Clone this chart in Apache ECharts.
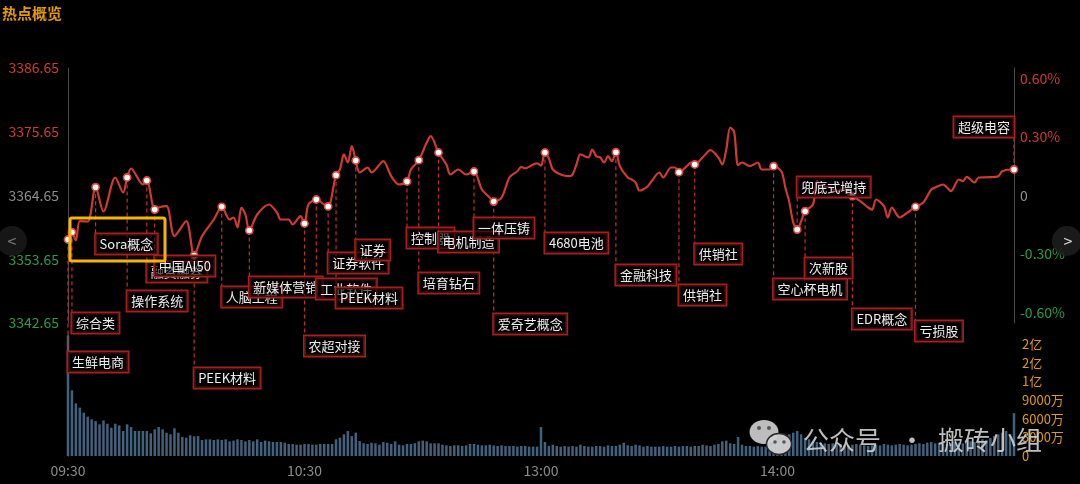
<!DOCTYPE html>
<html><head><meta charset="utf-8">
<script src="https://cdn.jsdelivr.net/npm/echarts@6/dist/echarts.min.js"></script>
<style>html,body{margin:0;padding:0;background:#000;}#c{width:1080px;height:484px;}</style>
</head><body><div id="c"></div>
<script>
// ---------- data ----------
const BASE = 3364.65;                 // previous close
const PRICE_HALF_RANGE = 22;          // axis spans BASE ± 22
const PCT_TICKS = [-0.6, -0.3, 0, 0.3, 0.6];
const TIME_LABELS = ['09:30', '10:30', '13:00', '14:00', ''];

const LINE_MIN = [0,1,2,3,5,7,9,12,14,15,16,19,20,22,23,25,27,30,32,34,37,39,41,42,43,44,45,46,48,51,53,54,56,57,59,60,61,63,65,66,68,69,70,71,72,73,74,76,77,78,80,82,84,86,87,89,91,92,94,96,97,99,101,103,105,107,108,110,112,114,115,116,118,119,120,121,122,123,125,127,128,129,130,132,133,134,135,136,137,138,139,140,142,143,144,145,147,148,150,151,153,154,155,157,158,159,161,163,165,166,167,168,169,170,171,173,175,176,178,179,181,182,183,184,185,186,187,189,190,191,193,195,197,198,199,201,203,204,205,207,208,209,211,213,215,217,219,220,222,223,224,226,227,228,230,231,234,236,237,239,240];
const LINE_PRICE = [3357.06,3358.32,3356.9,3360.22,3360.16,3366.08,3361.89,3367.76,3365.17,3367.76,3369.31,3366.55,3367.24,3362.23,3362.58,3362.80,3357.63,3360.22,3354.30,3357.63,3360.51,3362.70,3360.51,3360.85,3359.13,3362.58,3361.37,3358.61,3361.37,3363.10,3361.72,3360.51,3360.51,3359.65,3361.08,3359.82,3363.10,3363.96,3363.10,3362.75,3368.15,3369.14,3371.73,3370.34,3373.16,3370.69,3368.62,3369.48,3368.62,3369.14,3370.57,3367.98,3366.55,3367.07,3369.14,3370.74,3373.80,3374.88,3372.07,3370.00,3368.27,3369.14,3368.27,3368.79,3365.69,3364.30,3363.61,3364.30,3367.76,3368.84,3369.60,3369.31,3370.00,3370.20,3369.80,3372.07,3371.03,3369.14,3368.27,3367.98,3368.27,3370.00,3371.73,3371.21,3372.59,3371.43,3371.21,3370.34,3371.43,3370.57,3372.12,3369.71,3367.76,3367.41,3366.89,3365.51,3366.20,3367.07,3368.62,3367.76,3369.48,3369.48,3368.67,3369.71,3370.34,3370.00,3371.21,3372.47,3371.21,3370.00,3372.59,3376.38,3375.60,3369.90,3370.34,3369.71,3370.34,3369.14,3369.14,3369.71,3368.79,3366.00,3363.50,3359.99,3358.78,3360.22,3361.94,3363.10,3367.20,3366.03,3366.20,3365.34,3366.03,3364.82,3364.53,3363.67,3362.58,3362.23,3363.96,3362.80,3360.85,3362.58,3360.85,3361.72,3362.70,3363.44,3365.69,3366.03,3366.55,3366.03,3365.39,3367.41,3367.12,3367.88,3366.89,3367.76,3367.81,3367.98,3368.84,3369.14,3369.14];

// volume per minute, in 万 (10k)
const VOLUME = [
19400,10560,8470,7770,6960,6320,5890,5620,5090,5730,
5190,4550,5190,4930,4020,5090,4660,4020,4020,4020,
4020,3650,4290,4660,4290,3740,3490,4450,3740,3050,
2940,3330,3170,3210,2570,2680,2680,2570,2680,2570,
2680,2360,2470,2680,2570,2360,2570,2360,2680,2250,
2470,2360,2250,2250,2250,2140,1930,1930,1820,1820,
1930,1930,1820,1820,1930,1930,1930,1930,2680,2950,
3480,4020,3210,3750,2410,2040,1930,2140,2040,1820,
2250,2140,1930,2360,1820,1710,1930,1930,2040,2360,
2470,2360,2040,2040,2040,1820,1710,1610,1710,1710,
1610,1710,1930,1930,1820,1710,1710,1820,1710,1610,
1710,1610,1610,1610,1500,1610,1610,1500,1500,1500,
4660,2250,1610,1820,1610,1500,1610,1500,1610,1500,
1820,1610,1500,1500,1610,1610,1500,1710,1610,1610,
1820,2140,1710,1610,1820,1710,1500,1610,1500,1500,
1500,1610,1500,1500,1610,1500,1610,1610,1500,1610,
1610,1820,1710,1610,1820,1930,2360,2470,2040,1930,
3050,1820,1610,1610,1500,1610,1500,1500,1610,1820,
2140,2470,2680,3480,3750,4020,3480,2890,2680,2360,
2250,2140,2040,1930,2040,1820,1930,1820,1710,1820,
1930,1820,1710,1610,1710,1820,1710,1930,1820,1710,
1820,1930,1820,1710,1820,1930,2040,1930,2140,2250,
2040,2140,2040,1930,2040,2250,2140,2040,2250,2360,
2250,2470,2680,2570,2890,3210,3480,3750,4020,3480,
6890];
const VOL_MAX = 19450;
const VOL_TICK = 3000;

// hot-topic annotations: minute of the marker and its tag
const ANNOT_MIN  = [0,1,7,15,20,22,32,39,46,60,63,66,68,73,86,89,94,103,108,121,139,155,159,179,185,187,199,215,240];
const ANNOT_TEXT = ['生鲜电商','综合类','Sora概念','操作系统','融资融券','中国AI50','PEEK材料','人脑工程','新媒体营销','农超对接','工业软件','证券软件','PEEK材料','证券','控制器','培育钻石','电机制造','一体压铸','爱奇艺概念','4680电池','金融科技','供销社','供销社','空心杯电机','兜底式增持','次新股','EDR概念','亏损股','超级电容'];

// ---------- layout (pixels) ----------
const ANNOT_LABEL_Y = [352,313,234,291,262,256,368,287,277,336,279,253,288,240,228,273,232,218,314,233,265,285,244,279,177,258,309,321,117];
const ANNOT_ALIGN = ANNOT_MIN.map((m, i) => i === ANNOT_MIN.length - 1 ? 'right' : 'left');
const LABEL_H = 21;

const FONT = '"Noto Sans CJK SC", "Noto Sans", sans-serif';
const RED = '#cf3a31', GREEN = '#2a9c4b', GRAY = '#8c8c8c';

function priceAt(m) { return LINE_PRICE[LINE_MIN.indexOf(m)]; }
const PCT_EDGE = PRICE_HALF_RANGE / BASE * 100;

const lineData = LINE_MIN.map((m, i) => [m, LINE_PRICE[i] - BASE]);
const annotData = ANNOT_MIN.map((m, i) => [m, priceAt(m) - BASE, i]);
const volData = VOLUME.map((v, i) => [i, v]);

function signColor(v) { v = Number(v); return v > 1e-9 ? RED : (v < -1e-9 ? GREEN : GRAY); }

const chart = echarts.init(document.getElementById('c'));
chart.setOption({
  backgroundColor: '#000',
  animation: false,
  grid: [
    { left: 68, right: 66, top: 68, height: 255 },
    { left: 68, right: 66, top: 335, bottom: 28 }
  ],
  xAxis: [
    { type: 'value', gridIndex: 0, min: 0, max: 240, show: false },
    { type: 'value', gridIndex: 1, min: 0, max: 240, interval: 60,
      axisLine: { show: false }, axisTick: { show: false }, splitLine: { show: false },
      axisLabel: { color: GRAY, fontSize: 14, fontFamily: FONT, margin: 8,
        formatter: v => TIME_LABELS[Math.round(v / 60)] || '' } }
  ],
  yAxis: [
    { type: 'value', gridIndex: 0, position: 'left', min: -PRICE_HALF_RANGE, max: PRICE_HALF_RANGE, interval: 11,
      axisLine: { show: true, lineStyle: { color: '#4a4a4a' } }, axisTick: { show: false }, splitLine: { show: false },
      axisLabel: { fontSize: 14, fontFamily: FONT, margin: 9,
        formatter: v => (BASE + v).toFixed(2), color: v => signColor(v) } },
    { type: 'value', gridIndex: 0, position: 'right', min: -PCT_EDGE, max: PCT_EDGE,
      axisLine: { show: true, lineStyle: { color: '#4a4a4a' } }, axisTick: { show: false }, splitLine: { show: false },
      axisLabel: { fontSize: 14, fontFamily: FONT, margin: 6, customValues: PCT_TICKS,
        formatter: v => { if (Math.abs(v) < 1e-9) return '0'; return Number(v).toFixed(2) + '%'; },
        color: v => signColor(v) } },
    { type: 'value', gridIndex: 1, position: 'right', min: 0, max: VOL_MAX, interval: VOL_TICK,
      axisLine: { show: true, lineStyle: { color: '#4a4a4a' } }, axisTick: { show: false }, splitLine: { show: false },
      axisLabel: { fontSize: 13, fontFamily: FONT, margin: 8, color: '#e39c00',
        formatter: v => { if (v % VOL_TICK !== 0) return ''; if (v === 0) return '0'; if (v >= 10000) return Math.round(v / 10000) + '亿'; return v + '万'; } } },
    { type: 'value', gridIndex: 1, position: 'left', min: 0, max: VOL_MAX,
      axisLine: { show: true, lineStyle: { color: '#4a4a4a' } }, axisTick: { show: false }, splitLine: { show: false },
      axisLabel: { show: false } }
  ],
  series: [
    { type: 'bar', xAxisIndex: 1, yAxisIndex: 2, data: volData, barWidth: 2.5,
      itemStyle: { color: '#41617c' }, clip: false, z: 1 },
    { type: 'custom', xAxisIndex: 0, yAxisIndex: 0, data: annotData, encode: { x: 0, y: 1 }, z: 2,
      renderItem: (params, api) => {
        const i = api.value(2);
        const pt = api.coord([api.value(0), api.value(1)]);
        const top = ANNOT_LABEL_Y[i];
        const endY = top > pt[1] ? top : top + LABEL_H;
        return { type: 'line', shape: { x1: pt[0], y1: pt[1], x2: pt[0], y2: endY },
          style: { stroke: '#c0302a', lineWidth: 1.2, lineDash: [4, 3] } };
      } },
    { type: 'line', xAxisIndex: 0, yAxisIndex: 0, data: lineData, smooth: 0.3, showSymbol: false,
      lineStyle: { color: RED, width: 2.2 }, z: 3 },
    { type: 'custom', xAxisIndex: 0, yAxisIndex: 0, data: annotData, encode: { x: 0, y: 1 }, z: 4,
      renderItem: (params, api) => {
        const pt = api.coord([api.value(0), api.value(1)]);
        return { type: 'circle', shape: { cx: pt[0], cy: pt[1], r: 3.6 },
          style: { fill: '#ffffff', stroke: '#e0453b', lineWidth: 1.6 } };
      } },
    { type: 'custom', xAxisIndex: 0, yAxisIndex: 0, data: annotData, encode: { x: 0, y: 1 }, z: 5,
      renderItem: (params, api) => {
        const i = api.value(2);
        const pt = api.coord([api.value(0), api.value(1)]);
        return { type: 'text', x: pt[0], y: ANNOT_LABEL_Y[i],
          style: { text: ANNOT_TEXT[i], fill: '#eeeeee', font: '13px ' + FONT,
            align: ANNOT_ALIGN[i], verticalAlign: 'top',
            backgroundColor: 'rgba(0,0,0,0.55)', borderColor: '#a3201e', borderWidth: 1.5,
            padding: [2, 4, 2, 4], lineHeight: 16 } };
      } }
  ],
  graphic: [
    { type: 'text', left: 2, top: 6, style: { text: '热点概览', fill: '#e39a00', font: 'bold 15px ' + FONT } },
    { type: 'rect', shape: { x: 70, y: 218, width: 95, height: 43, r: 2 }, style: { fill: 'none', stroke: '#f5b500', lineWidth: 3 }, z: 100 },
    { type: 'circle', shape: { cx: 12, cy: 241, r: 15 }, style: { fill: 'rgba(28,28,28,0.8)' }, z: 100 },
    { type: 'text', x: 12, y: 241, style: { text: '<', fill: '#777', font: '16px ' + FONT, align: 'center', verticalAlign: 'middle' }, z: 101 },
    { type: 'circle', shape: { cx: 1067, cy: 241, r: 15 }, style: { fill: 'rgba(30,30,30,0.85)' }, z: 100 },
    { type: 'text', x: 1068, y: 241, style: { text: '>', fill: '#d0d0d0', font: '16px ' + FONT, align: 'center', verticalAlign: 'middle' }, z: 101 },
    // watermark
    { type: 'ellipse', shape: { cx: 764, cy: 432, rx: 14.5, ry: 12 }, style: { fill: 'rgba(205,205,205,0.92)' }, z: 100 },
    { type: 'circle', shape: { cx: 759, cy: 428, r: 2 }, style: { fill: '#555' }, z: 101 },
    { type: 'circle', shape: { cx: 769, cy: 428, r: 2 }, style: { fill: '#555' }, z: 101 },
    { type: 'ellipse', shape: { cx: 779, cy: 444, rx: 12.5, ry: 10.5 }, style: { fill: 'rgba(210,210,210,0.95)', stroke: '#2a2a2a', lineWidth: 1.5 }, z: 102 },
    { type: 'circle', shape: { cx: 775, cy: 442, r: 1.8 }, style: { fill: '#555' }, z: 103 },
    { type: 'circle', shape: { cx: 784, cy: 442, r: 1.8 }, style: { fill: '#555' }, z: 103 },
    { type: 'text', x: 803, y: 440, style: { text: '公众号', fill: 'rgba(210,210,210,0.9)', font: '26px ' + FONT, verticalAlign: 'middle' }, z: 102 },
    { type: 'text', x: 912, y: 440, style: { text: '·', fill: 'rgba(210,210,210,0.9)', font: '26px ' + FONT, align: 'center', verticalAlign: 'middle' }, z: 102 },
    { type: 'text', x: 938, y: 440, style: { text: '搬砖小组', fill: 'rgba(210,210,210,0.9)', font: '26px ' + FONT, verticalAlign: 'middle' }, z: 102 }
  ]
});
</script>
</body></html>
